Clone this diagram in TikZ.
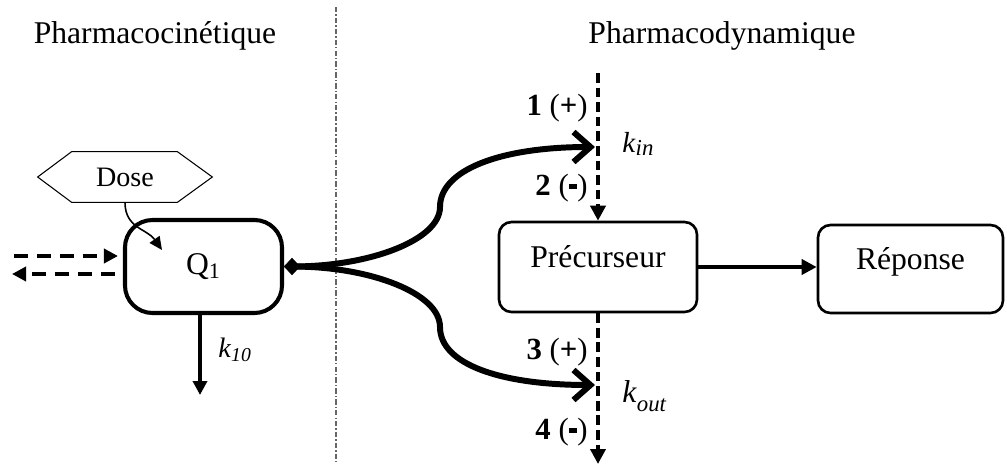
\documentclass[tikz,border=0pt]{standalone}
\usepackage{fontspec}
\setmainfont{Liberation Serif}
\usetikzlibrary{arrows.meta,calc}
\newcommand{\XDivider}{6.72}
\newcommand{\XPrec}{11.96}
\newcommand{\YRow}{-5.34}
\newcommand{\LblGap}{11.76}
\colorlet{dividerColor}{black!60}
\colorlet{boxStroke}{black}
\newcommand{\SubRate}[2]{\textit{#1}\textsubscript{\textit{#2}}}
\newcommand{\Minus}{\rule[0.2em]{0.28em}{0.16em}}

\begin{document}
\begin{tikzpicture}[
  title/.style    = {font=\fontsize{18}{21.6}\selectfont},
  boxtxt/.style   = {font=\fontsize{18}{21.6}\selectfont},
  note/.style     = {font=\fontsize{17.5}{21}\selectfont, inner sep=0pt},
  ratelbl/.style  = {font=\fontsize{16}{19}\selectfont, inner sep=0pt},
  compbox/.style  = {draw=boxStroke, rounded corners=0.25cm, line width=1.5pt,
                     minimum height=1.8cm, text height=0.45cm, text depth=0.45cm,
                     boxtxt},
  divider/.style  = {dividerColor, line width=0.7pt,
                     dash pattern=on 3pt off 1.2pt on 0.8pt off 1.2pt},
  flow/.style     = {line width=3.4pt,
                     {Diamond[length=3.2mm,width=3.4mm]}-{Straight Barb[length=3.4mm,width=6mm]}},
  dasharr/.style  = {line width=2.6pt, dash pattern=on 8pt off 5pt,
                     -{Triangle[length=2.8mm,width=2.8mm]}},
  ratearr/.style  = {line width=2.2pt, dash pattern=on 5.5pt off 2.8pt,
                     -{Triangle[length=3mm,width=3mm]}},
  mainarr/.style  = {line width=2.8pt, -{Triangle[length=3mm,width=3mm]}},
]
\useasboundingbox (0,0) rectangle (20.14,-9.32);

% ----------------------------------------------------------------
% Section titles and divider
% ----------------------------------------------------------------
\node[title] (pkTitle) at (3.10,-0.71) {Pharmacocinétique};
\node[title] (pdTitle) at (14.44,-0.71) {Pharmacodynamique};

\coordinate (divTop) at (\XDivider,-0.14);
\coordinate (divBot) at (\XDivider,-9.24);
\draw[divider] (divTop) -- (divBot);

% ----------------------------------------------------------------
% Pharmacokinetic compartment
% ----------------------------------------------------------------
\node[inner sep=0pt, minimum width=3.48cm, minimum height=1.0cm,
      font=\fontsize{16}{19}\selectfont] (dose) at (2.50,-3.54) {Dose};
\draw[line width=0.6pt]
  (dose.west) -- ([xshift=0.68cm]dose.north west) -- ([xshift=-0.70cm]dose.north east)
  -- (dose.east) -- ([xshift=-0.70cm]dose.south east) -- ([xshift=0.68cm]dose.south west)
  -- cycle;

\node[draw=boxStroke, rounded corners=0.55cm, line width=2.3pt,
      minimum width=3.14cm, minimum height=1.86cm, boxtxt]
  (q1) at (4.07,-5.33) {Q\textsubscript{1}};

% Dose -> Q1
\coordinate (doseTip) at (3.24,-5.00);
\draw[line width=0.9pt, -{Triangle[length=2.6mm,width=2.4mm]}]
  (dose.south) to[out=-90, in=125, looseness=1.1] (doseTip);

% exchange with the periphery
\coordinate (leftIn) at (0.28,-5.12);
\coordinate (leftOut) at (0.24,-5.48);
\draw[dasharr] (leftIn) -- ($(q1.west |- leftIn)+(-0.10,0)$);
\draw[dasharr] ($(q1.west |- leftOut)+(-0.16,0)$) -- (leftOut);

% elimination
\coordinate (k10end) at (4.00,-7.90);
\draw[line width=2.3pt, -{Triangle[length=2.8mm,width=2.8mm]}]
  (q1.south -| k10end) -- (k10end);
\node[ratelbl, anchor=base west] (k10) at (4.36,-7.14) {\SubRate{k}{10}};

% ----------------------------------------------------------------
% Pharmacodynamic chain
% ----------------------------------------------------------------
\node[compbox, minimum width=3.96cm] (prec) at (\XPrec,\YRow) {Précurseur};
\node[compbox, minimum width=3.70cm, minimum height=1.76cm] (rep) at (18.21,-5.38) {Réponse};

\draw[mainarr] (prec.east) -- (prec.east -| rep.west);

% kin / kout
\coordinate (inTop) at (\XPrec,-1.46);
\coordinate (outBot) at (\XPrec,-9.28);
\draw[ratearr] (inTop) -- (prec.north);
\draw[ratearr] (prec.south) -- (outBot);

\node[note, anchor=east] (lbl1) at (\LblGap,-2.16) {\textbf{1} (\textbf{+})};
\node[note, anchor=east] (lbl2) at (\LblGap,-3.76) {\textbf{2} (\Minus)};
\node[note, anchor=east] (lbl3) at (\LblGap,-7.04) {\textbf{3} (\textbf{+})};
\node[note, anchor=east] (lbl4) at (\LblGap,-8.64) {\textbf{4} (\Minus)};

\node[ratelbl, anchor=base west, font=\fontsize{16.5}{19}\selectfont]
  (kinLbl) at (12.44,-3.04) {\textit{k}\raisebox{-0.12em}{\fontsize{13}{15}\selectfont\textit{in}}};
\node[ratelbl, anchor=base west, font=\fontsize{18}{21}\selectfont]
  (koutLbl) at (12.44,-8.04) {\textit{k}\raisebox{-0.3em}{\fontsize{13}{15}\selectfont\textit{out}}};

% ----------------------------------------------------------------
% Drug effect on kin / kout
% ----------------------------------------------------------------
\coordinate (kin) at (11.90,-2.94);
\coordinate (kout) at (11.90,-7.70);
\draw[flow] (q1.east) .. controls (7.40,-5.32) and (8.80,-4.80) .. (8.80,-4.14)
  .. controls (8.80,-3.40) and (10.00,-2.94) .. (kin);
\draw[flow] (q1.east) .. controls (7.40,-5.34) and (8.80,-5.86) .. (8.80,-6.54)
  .. controls (8.80,-7.28) and (10.00,-7.70) .. (kout);

\end{tikzpicture}
\end{document}
